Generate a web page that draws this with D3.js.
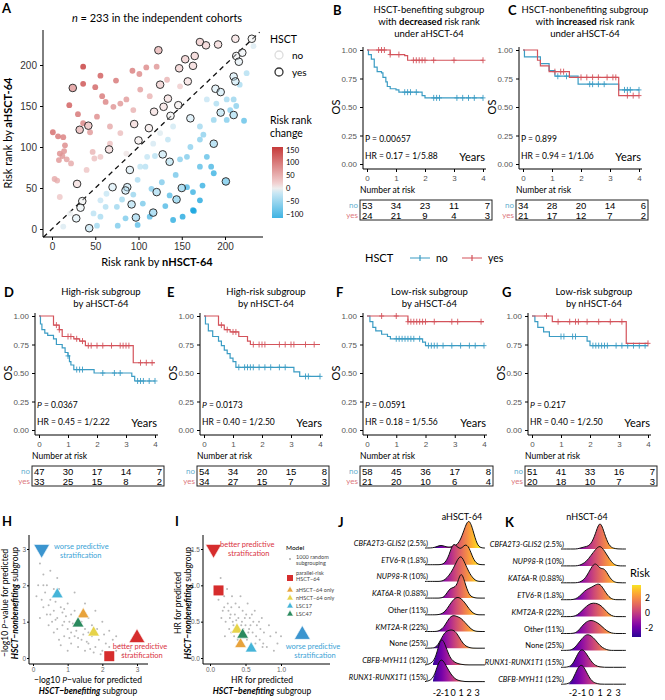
<!DOCTYPE html>
<html><head><meta charset="utf-8">
<script src="https://cdn.jsdelivr.net/npm/d3@7"></script>
<style>body{margin:0;background:#fff}svg{font-family:Lato,"Open Sans",sans-serif}</style>
</head><body>
<svg id="fig" width="665" height="700"></svg>
<script>
// ---------- data ----------
// panel A: [risk rank by nHSCT-64, risk rank by aHSCT-64]
const rankYes = [[171,228],[178,224],[192,225],[212,232],[231,232],[123,218],[154,207],[165,211],[147,196],[163,199],[213,211],[220,215],[216,204],[210,186],[212,180],[189,171],[195,167],[157,180],[125,176],[134,159],[129,149],[118,143],[146,151],[137,138],[160,135],[95,128],[112,123],[100,108],[32,121],[42,126],[66,97],[128,91],[136,82],[210,139],[195,142],[187,104],[29,55],[70,51],[87,51],[85,47],[90,72],[121,45],[150,50],[144,36],[35,34],[33,26],[28,13],[43,1],[92,30],[97,14],[117,20],[24,172],[201,58]];
const rankNo = [[36,198],[56,187],[50,173],[36,177],[20,151],[58,162],[62,155],[71,149],[79,153],[74,181],[93,193],[101,189],[109,197],[1,118],[7,113],[13,112],[15,102],[9,92],[14,95],[8,84],[17,85],[22,80],[3,61],[6,59],[12,89],[30,140],[36,129],[44,118],[47,94],[49,86],[40,72],[56,88],[67,104],
 [13,3],[21,19],[9,39],[56,35],[63,43],[75,27],[56,15],[48,19],[102,76],[110,88],[117,104],[86,92],[125,117],[140,125],[156,88],[171,109],[179,88],[187,68],[171,35],[156,51],[140,11],[163,23],[134,109],[148,174],[179,158],[190,153],[202,158],[225,190],[233,223],[217,176],[121,198],[133,182],[102,170],[113,162],[86,158],[94,145],[171,125],[187,133],[79,117],[67,125],[52,137],
 [206,145],[213,150],[202,133],[222,132],[175,115],[160,100],[184,76],[174,53],[163,45],[164,22],[151,15],[131,28],[136,41],[127,57],[143,66],[148,85],[119,89],[108,76],[99,60],[99,5],[76,4],[62,27],[52,4],[85,13],[113,15],[94,42],[81,36],[105,31],[115,49],[171,76],[210,158]];
const rankTicks = [0,50,100,150,200];
const changeTicks = [150,100,50,0,-50,-100];

// KM curves: [time, survival] steps; censor times
const kmYears = [0,1,2,3,4];
const kmB = {no:[[0,1],[0.05,0.96],[0.15,0.92],[0.25,0.85],[0.35,0.81],[0.5,0.8],[0.55,0.76],[0.65,0.72],[0.7,0.68],[0.8,0.66],[1.0,0.65],[1.1,0.63],[1.9,0.6],[2.0,0.58],[4,0.58]],
  noC:[1.3,1.4,1.5,1.7,2.3,2.4,2.5,3.1,3.3,3.5,3.7,4.0],
  yes:[[0,1],[0.8,0.96],[1.3,0.95],[1.4,0.91],[4,0.91]], yesC:[0.4,0.5,0.6,0.8,1.1,1.6,1.7,1.8,1.9,2.0,2.3,3.0,4.0]};
const kmC = {no:[[0,1],[0.05,0.94],[0.6,0.88],[0.9,0.82],[1.1,0.77],[1.9,0.7],[3.3,0.65],[4,0.65]],
  noC:[1.2,1.5,2.3,2.4,2.6,2.8,3.5,3.6,3.7,4.0],
  yes:[[0,1],[0.5,0.91],[0.6,0.86],[0.9,0.81],[1.6,0.76],[3.3,0.6],[4,0.6]], yesC:[1.1,1.3,1.4,2.0,2.2,2.4,2.6,2.9,3.1,3.2,3.6,3.8,4.0]};
const kmD = {no:[[0,1],[0.05,0.93],[0.1,0.88],[0.2,0.85],[0.3,0.83],[0.5,0.8],[0.6,0.75],[0.8,0.72],[0.9,0.68],[1.0,0.65],[1.05,0.6],[1.1,0.57],[1.2,0.53],[1.9,0.5],[3.2,0.47],[3.3,0.43],[4,0.43]],
  noC:[1.0,1.3,1.4,1.5,2.2,2.6,2.8,3.4,3.5,3.6,3.8,4.0],
  yes:[[0,1],[0.5,0.92],[0.7,0.88],[0.8,0.82],[1.2,0.8],[1.4,0.78],[1.6,0.74],[3.25,0.59],[4,0.59]], yesC:[0.6,0.7,1.0,1.1,1.3,1.5,1.7,1.8,2.0,2.2,2.5,2.8,2.9,3.0,3.1,3.5,3.7,3.9]};
const kmE = {no:[[0,1],[0.05,0.93],[0.15,0.87],[0.3,0.82],[0.5,0.78],[0.6,0.74],[0.7,0.7],[0.8,0.67],[0.9,0.63],[1.0,0.6],[1.1,0.55],[3.1,0.51],[3.3,0.47],[4,0.47]],
  noC:[1.2,1.4,1.5,1.6,1.7,1.9,2.1,2.3,2.6,2.8,3.5,3.6,4.0],
  yes:[[0,1],[0.5,0.92],[0.7,0.88],[0.9,0.86],[1.2,0.82],[1.5,0.78],[1.6,0.75],[4,0.75]], yesC:[0.6,0.8,1.0,1.1,1.7,1.9,2.0,2.1,2.6,2.8,3.0,3.1,3.5,3.8]};
const kmF = {no:[[0,1],[0.1,0.95],[0.2,0.9],[0.3,0.87],[0.5,0.84],[0.7,0.82],[0.8,0.8],[1.9,0.77],[2.0,0.74],[4,0.74]],
  noC:[1.0,1.1,1.2,1.3,1.4,1.5,1.6,1.8,2.1,2.2,2.3,2.4,2.6,2.9,3.2,3.5,3.7,4.0],
  yes:[[0,1],[1.4,0.95],[4,0.95]], yesC:[0.5,1.0,1.4,1.5,1.6,1.7,1.8,1.9,2.0,2.3,2.9,3.1,3.9]};
const kmG = {no:[[0,1],[0.1,0.95],[0.2,0.9],[0.4,0.86],[0.6,0.82],[1.9,0.78],[2.0,0.74],[4,0.74]],
  noC:[1.0,1.1,1.4,1.5,2.1,2.2,2.3,2.4,2.5,2.6,2.9,3.1,3.3,3.5,3.7,3.9],
  yes:[[0,1],[0.7,0.95],[3.25,0.76],[4,0.76]], yesC:[0.5,0.9,1.3,1.5,1.6,1.9,2.3,2.7,3.1,4.0]};
const riskB = {no:[53,34,23,11,7], yes:[24,21,9,4,3]};
const riskC = {no:[34,28,20,14,6], yes:[21,17,12,7,2]};
const riskD = {no:[47,30,17,14,7], yes:[33,25,15,8,2]};
const riskE = {no:[54,34,20,15,8], yes:[34,27,15,7,3]};
const riskF = {no:[58,45,36,17,8], yes:[21,20,10,6,4]};
const riskG = {no:[51,41,33,16,7], yes:[20,18,10,7,3]};

// H: -log10 P, I: HR  (random subgroupings + models)
const cloudH = [[0.2,2.6],[0.3,2.3],[0.4,2.0],[0.5,1.6],[0.3,1.4],[0.6,1.3],[0.7,1.1],[0.8,1.4],[0.9,1.0],[1.0,0.8],[1.1,1.2],[1.2,0.6],[1.3,0.9],[1.4,0.5],[1.5,0.8],[1.6,0.4],[1.7,0.6],[1.8,0.3],[1.9,0.5],[2.0,0.2],[2.1,0.4],[2.2,0.3],[2.4,0.2],[2.6,0.1],[0.5,2.4],[0.6,1.9],[0.8,1.7],[1.0,1.5],[1.2,1.3],[1.4,1.0],[1.6,1.1],[0.9,0.6],[0.7,0.8],[1.1,0.4],[1.3,0.3],[1.5,0.2],[0.4,1.2],[0.55,1.0],[0.75,0.5],[1.05,1.0],[1.25,0.75],[1.45,0.65],[1.65,0.25],[1.85,0.8],[2.05,0.65],[2.3,0.5],[2.5,0.35],[0.35,1.8],[0.65,1.55],[0.85,1.25],[0.95,1.15],[1.15,0.95],[1.35,1.15],[1.55,0.45],[1.75,0.15],[1.95,0.1],[2.2,0.75],[0.25,1.6],[0.45,0.9],[0.6,0.7],[0.8,0.35],[1.0,0.2],[0.15,2.0],[0.2,1.1],[2.8,0.2],[2.0,1.0],[1.8,1.3],[1.2,1.8],[0.7,2.2],[1.5,1.5],[0.45,1.45],[0.9,1.35],[1.1,0.7],[1.3,0.55],[0.65,1.05],[0.85,0.9],[1.7,0.9],[2.4,0.6],[0.1,1.7],[0.5,1.2],[1.05,0.55],[1.6,0.7],[0.75,1.9],[0.3,2.0]];
const cloudI = [[0.15,1.1],[0.1,0.95],[0.2,0.85],[0.25,0.75],[0.3,0.7],[0.18,0.65],[0.35,0.6],[0.28,0.55],[0.4,0.55],[0.45,0.5],[0.33,0.45],[0.5,0.45],[0.38,0.4],[0.55,0.4],[0.42,0.35],[0.6,0.35],[0.48,0.3],[0.65,0.3],[0.52,0.25],[0.7,0.25],[0.58,0.2],[0.75,0.2],[0.8,0.15],[0.9,0.1],[0.22,0.5],[0.27,0.4],[0.31,0.85],[0.36,0.75],[0.41,0.7],[0.46,0.65],[0.51,0.6],[0.56,0.55],[0.61,0.5],[0.66,0.45],[0.71,0.4],[0.76,0.35],[0.85,0.3],[0.95,0.2],[0.24,0.95],[0.29,0.6],[0.34,0.3],[0.39,0.25],[0.44,0.45],[0.49,0.55],[0.54,0.35],[0.59,0.6],[0.64,0.2],[0.69,0.5],[0.74,0.15],[0.12,0.8],[0.16,0.55],[0.21,0.3],[0.26,0.65],[0.43,0.85],[0.53,0.75],[0.63,0.65],[0.73,0.55],[0.83,0.45],[0.93,0.35],[1.0,0.3],[0.32,0.5],[0.37,0.52],[0.47,0.4],[0.57,0.45],[0.2,0.7],[0.3,0.35]];
const modelNames = ["parallel-risk HSCT−64","aHSCT−64 only","nHSCT−64 only","LSC17","LSC47"];
const modelColors = ["#d62d2d","#e8a33c","#e6d34a","#45b4d8","#2a8a5e"];
const modelH = [[2.2,0.05],[1.45,1.2],[1.75,0.7],[0.7,1.75],[1.3,0.95]];
const modelI = [[0.12,0.93],[0.43,0.19],[0.38,0.39],[0.58,0.13],[0.46,0.32]];

// J/K ridgelines: density heights on risk grid
const riskGrid = [-2.5,-2,-1.5,-1,-0.5,0,0.5,1,1.5,2,2.5,3,3.5];
const ridgeJ = [
 ["CBFA2T3-GLIS2"," (2.5%)",[0,0.05,0.1,0.05,0.02,0.05,0.1,0.3,0.7,1.0,0.6,0.1,0]],
 ["ETV6","-R (1.8%)",[0,0,0,0.05,0.3,0.75,0.6,0.5,0.7,0.6,0.2,0.02,0]],
 ["NUP98","-R (10%)",[0,0,0,0.05,0.2,0.4,0.7,0.9,0.6,0.3,0.1,0,0]],
 ["KAT6A","-R (0.88%)",[0,0,0,0.05,0.3,0.35,0.4,0.95,0.5,0.1,0.02,0,0]],
 ["","Other (11%)",[0,0,0.02,0.1,0.3,0.5,0.6,0.55,0.4,0.2,0.05,0,0]],
 ["KMT2A","-R (22%)",[0,0,0.05,0.2,0.45,0.55,0.5,0.45,0.3,0.15,0.03,0,0]],
 ["","None (25%)",[0,0.05,0.3,0.55,0.6,0.62,0.5,0.25,0.08,0.02,0,0,0]],
 ["CBFB-MYH11"," (12%)",[0.05,0.4,0.95,0.7,0.3,0.12,0.05,0.02,0,0,0,0,0]],
 ["RUNX1-RUNX1T1"," (15%)",[0.05,0.5,0.8,0.6,0.35,0.15,0.05,0.02,0,0,0,0,0]]];
const ridgeK = [
 ["CBFA2T3-GLIS2"," (2.5%)",[0,0,0,0.05,0.08,0.15,0.5,1.0,0.5,0.1,0.02,0,0]],
 ["NUP98","-R (10%)",[0,0,0,0.05,0.15,0.35,0.55,0.7,0.5,0.25,0.05,0,0]],
 ["KAT6A","-R (0.88%)",[0,0,0,0.05,0.2,0.5,0.7,0.45,0.5,0.2,0.03,0,0]],
 ["ETV6","-R (1.8%)",[0,0,0.05,0.2,0.35,0.4,0.5,0.55,0.3,0.08,0,0,0]],
 ["KMT2A","-R (22%)",[0,0,0.05,0.2,0.35,0.45,0.45,0.4,0.25,0.08,0,0,0]],
 ["","Other (11%)",[0,0,0.05,0.25,0.4,0.45,0.4,0.3,0.15,0.04,0,0,0]],
 ["","None (25%)",[0,0.03,0.2,0.4,0.55,0.5,0.35,0.15,0.05,0,0,0,0]],
 ["RUNX1-RUNX1T1"," (15%)",[0,0.1,0.45,0.65,0.45,0.2,0.05,0.01,0,0,0,0,0]],
 ["CBFB-MYH11"," (12%)",[0,0.15,0.55,0.7,0.4,0.12,0.03,0,0,0,0,0,0]]];
const ridgeTicks = [-2,-1,0,1,2,3];
const riskLegendTicks = [2,0,-2];

// ---------- drawing ----------
const svg = d3.select("#fig");
const defs = svg.append("defs");
const BLUE = "#3b9cc4", RED = "#d4535b";
function letter(t,x,y){svg.append("text").attr("x",x).attr("y",y).attr("font-size",13).attr("font-weight","bold").text(t);}

// ----- A -----
{
  const x = d3.scaleLinear().domain([0,200]).range([52,225]);
  const y = d3.scaleLinear().domain([0,200]).range([229,65]);
  const col = d3.scaleLinear().domain([-130,-20,0,20,160]).range(["#29abe0","#c6e6f4","#eeeeee","#f1d0d0","#c63a3a"]);
  letter("A",2,13);
  svg.append("text").attr("x",157).attr("y",22).attr("text-anchor","middle").attr("font-size",11)
    .html('<tspan font-style="italic">n</tspan> = 233 in the independent cohorts');
  const g = svg.append("g");
  g.append("line").attr("x1",x(-10)).attr("y1",y(-10)).attr("x2",x(240)).attr("y2",y(240))
    .attr("stroke","#111").attr("stroke-dasharray","5,4").attr("stroke-width",1.3);
  g.selectAll(".pn").data(rankNo).join("circle").attr("cx",d=>x(d[0])).attr("cy",d=>y(d[1])).attr("r",2.9)
    .attr("fill",d=>col(d[1]-d[0])).attr("opacity",0.8);
  g.selectAll(".py").data(rankYes).join("circle").attr("cx",d=>x(d[0])).attr("cy",d=>y(d[1])).attr("r",3.8)
    .attr("fill",d=>col(d[1]-d[0])).attr("fill-opacity",0.45).attr("stroke","#333").attr("stroke-width",1);
  svg.append("g").attr("transform","translate(0,237)").call(d3.axisBottom(x).tickValues(rankTicks).tickSize(3))
    .call(a=>{a.select(".domain").attr("d","M43,0H263");a.selectAll("text").attr("font-size",10).attr("fill","#333");});
  svg.append("g").attr("transform","translate(43,0)").call(d3.axisLeft(y).tickValues(rankTicks).tickSize(3))
    .call(a=>{a.select(".domain").attr("d","M0,30V237");a.selectAll("text").attr("font-size",10).attr("fill","#333");});
  svg.append("text").attr("x",157).attr("y",266).attr("text-anchor","middle").attr("font-size",11)
    .html('Risk rank by <tspan font-weight="bold">nHSCT-64</tspan>');
  svg.append("text").attr("transform","translate(12,133) rotate(-90)").attr("text-anchor","middle").attr("font-size",11)
    .html('Risk rank by <tspan font-weight="bold">aHSCT-64</tspan>');
  svg.append("text").attr("x",270).attr("y",43).attr("font-size",10.5).text("HSCT");
  [["no",55,"#ddd"],["yes",72,"#333"]].forEach(([t,yy,s])=>{
    svg.append("circle").attr("cx",279).attr("cy",yy).attr("r",4).attr("fill","none").attr("stroke",s).attr("stroke-width",1.3);
    svg.append("text").attr("x",292).attr("y",yy+4).attr("font-size",10).text(t);});
  svg.append("text").attr("x",270).attr("y",124).attr("font-size",10.5).text("Risk rank");
  svg.append("text").attr("x",270).attr("y",137).attr("font-size",10.5).text("change");
  const cb = d3.scaleLinear().domain([-115,160]).range([218,147]);
  const grad = defs.append("linearGradient").attr("id","cbA").attr("x1",0).attr("x2",0).attr("y1",1).attr("y2",0);
  [-115,-20,0,20,160].forEach(v=>grad.append("stop").attr("offset",(v+115)/275).attr("stop-color",col(v)));
  svg.append("rect").attr("x",272).attr("y",147).attr("width",11).attr("height",71).attr("fill","url(#cbA)");
  changeTicks.forEach(v=>svg.append("text").attr("x",286).attr("y",cb(v)+3).attr("font-size",7.5).text(v<0?"−"+(-v):v));
}

// ----- KM panels -----
function km(o){
  const x = d3.scaleLinear().domain([0,4]).range([o.x0,o.x1]);
  const y = d3.scaleLinear().domain([0,1]).range([o.yb,o.yt]);
  const cx=(o.x0+o.x1)/2;
  letter(o.L,o.lx,o.ty[0]+2);
  o.title.forEach((t,i)=>svg.append("text").attr("x",cx+4).attr("y",o.ty[i]).attr("text-anchor","middle").attr("font-size",o.fs).html(t));
  const line = d3.line().x(d=>x(d[0])).y(d=>y(d[1])).curve(d3.curveStepAfter);
  [["no",BLUE],["yes",RED]].forEach(([k,c])=>{
    svg.append("path").attr("d",line(o.d[k])).attr("fill","none").attr("stroke",c).attr("stroke-width",1.2);
    const surv=t=>{let s=1;o.d[k].forEach(p=>{if(p[0]<=t)s=p[1];});return s;};
    o.d[k+"C"].forEach(t=>svg.append("path").attr("d",`M${x(t)},${y(surv(t))-3}v6M${x(t)-2.5},${y(surv(t))}h5`).attr("stroke",c).attr("stroke-width",0.9));
  });
  const ax=svg.append("g").attr("transform",`translate(0,${o.yb+5})`).call(d3.axisBottom(x).tickValues(kmYears).tickFormat(d3.format("d")).tickSize(3));
  ax.select(".domain").attr("d",`M${o.x0-4},0H${o.x1+3}`);
  ax.selectAll("text").attr("font-size",8).attr("fill","#555");
  const ay=svg.append("g").attr("transform",`translate(${o.x0-4},0)`).call(d3.axisLeft(y).tickValues([0,0.25,0.5,0.75,1]).tickFormat(d3.format(".2f")).tickSize(3));
  ay.select(".domain").attr("d",`M0,${o.yt-3}V${o.yb+5}`);
  ay.selectAll("text").attr("font-size",8).attr("fill","#555");
  svg.append("text").attr("transform",`translate(${o.x0-27},${(o.yt+o.yb)/2}) rotate(-90)`).attr("text-anchor","middle").attr("font-size",11).text("OS");
  svg.append("text").attr("x",o.x1+2).attr("y",o.yb-3).attr("text-anchor","end").attr("font-size",11).text("Years");
  svg.append("text").attr("x",o.x0-2).attr("y",o.yb-22).attr("font-size",8.5).html(o.p);
  svg.append("text").attr("x",o.x0-2).attr("y",o.yb-5).attr("font-size",8.5).text(o.hr);
  svg.append("text").attr("x",o.x0-7).attr("y",o.by-7).attr("font-size",8.5).text("Number at risk");
  const bx0=o.x0-7,bx1=o.x1+9;
  svg.append("rect").attr("x",bx0).attr("y",o.by).attr("width",bx1-bx0).attr("height",20).attr("fill","none").attr("stroke","#222");
  [["no",BLUE,9],["yes",RED,18.5]].forEach(([k,c,dy])=>{
    svg.append("text").attr("x",bx0-2).attr("y",o.by+dy-1).attr("text-anchor","end").attr("font-size",8).attr("fill",c).attr("opacity",0.8).text(k);
    o.r[k].forEach((v,i)=>svg.append("text").attr("x",i===0?bx0+2:i===4?bx1-2:x(i)).attr("y",o.by+dy)
      .attr("text-anchor",i===0?"start":i===4?"end":"middle").attr("font-family","Liberation Sans Narrow,Liberation Sans,sans-serif").attr("font-size",9.5).text(v));
  });
}
km({L:"B",lx:333,x0:367,x1:483,yt:50,yb:164,ty:[13,25,37],fs:9.5,title:["HSCT-benefiting subgroup",'with <tspan font-weight="bold">decreased</tspan> risk rank',"under aHSCT-64"],d:kmB,r:riskB,p:"P = 0.00657",hr:"HR = 0.17 = 1/5.88",by:200});
km({L:"C",lx:508,x0:523,x1:639,yt:50,yb:164,ty:[13,25,37],fs:9.5,title:["HSCT-nonbenefiting subgroup",'with <tspan font-weight="bold">increased</tspan> risk rank',"under aHSCT-64"],d:kmC,r:riskC,p:"P = 0.899",hr:"HR = 0.94 = 1/1.06",by:200});
const itP=v=>`<tspan font-style="italic">P</tspan> = ${v}`;
km({L:"D",lx:4,x0:39,x1:155,yt:316,yb:430,ty:[295,307],fs:9.5,title:["High-risk subgroup","by aHSCT-64"],d:kmD,r:riskD,p:itP("0.0367"),hr:"HR = 0.45 = 1/2.22",by:466});
km({L:"E",lx:167,x0:204,x1:320,yt:316,yb:430,ty:[295,307],fs:9.5,title:["High-risk subgroup","by nHSCT-64"],d:kmE,r:riskE,p:itP("0.0173"),hr:"HR = 0.40 = 1/2.50",by:466});
km({L:"F",lx:336,x0:367,x1:484,yt:316,yb:430,ty:[295,307],fs:9.5,title:["Low-risk subgroup","by aHSCT-64"],d:kmF,r:riskF,p:itP("0.0591"),hr:"HR = 0.18 = 1/5.56",by:466});
km({L:"G",lx:502,x0:532,x1:648,yt:316,yb:430,ty:[295,307],fs:9.5,title:["Low-risk subgroup","by nHSCT-64"],d:kmG,r:riskG,p:itP("0.217"),hr:"HR = 0.40 = 1/2.50",by:466});
// HSCT legend
svg.append("text").attr("x",365).attr("y",262).attr("font-size",11).text("HSCT");
[["no",BLUE,410],["yes",RED,462]].forEach(([t,c,xx])=>{
  svg.append("path").attr("d",`M${xx},258h20M${xx+10},255v6`).attr("stroke",c).attr("stroke-width",1.2);
  svg.append("text").attr("x",xx+26).attr("y",262).attr("font-size",10.5).text(t);});

// ----- H / I -----
function tri(g,x,y,c,s,down){g.append("path").attr("d",d3.symbol(d3.symbolTriangle,s)()).attr("transform",`translate(${x},${y})${down?" rotate(180)":""}`).attr("fill",c).attr("stroke","#fff").attr("stroke-width",0.6);}
function scatterPanel(o){
  letter(o.L,o.lx,526);
  const g=svg.append("g");
  g.selectAll("circle").data(o.cloud).join("circle").attr("cx",d=>o.x(d[0])).attr("cy",d=>o.y(d[1])).attr("r",1).attr("fill","#b8b8b8");
  o.models.forEach((m,i)=>{
    if(i===0) g.append("rect").attr("x",o.x(m[0])-5).attr("y",o.y(m[1])-5).attr("width",10).attr("height",10).attr("fill",modelColors[0]);
    else tri(g,o.x(m[0]),o.y(m[1]),modelColors[i],60);
  });
  const ax=svg.append("g").attr("transform",`translate(0,${o.yb})`).call(d3.axisBottom(o.x).tickValues(o.xt).tickSize(2).tickPadding(1).tickFormat(o.xf));
  ax.select(".domain").attr("d",`M${o.xl},0H${o.xr}`);ax.selectAll("text").attr("font-size",6.5).attr("fill","#666");
  const ay=svg.append("g").attr("transform",`translate(${o.xl},0)`).call(d3.axisLeft(o.y).tickValues(o.yt).tickSize(2).tickPadding(1).tickFormat(o.yf));
  ay.select(".domain").attr("d",`M0,535V${o.yb}`);ay.selectAll("text").attr("font-size",6.5).attr("fill","#666");
}
function note(s,xx,yy,c,a){svg.append("text").attr("x",xx).attr("y",yy).attr("font-size",7.5).attr("fill",c).attr("text-anchor",a||"start").text(s);}
function axTitle(t,x,y,rot){svg.append("text").attr("transform",`translate(${x},${y})${rot?" rotate(-90)":""}`).attr("text-anchor","middle").attr("font-size",8.5).html(t);}
{
  const x=d3.scaleLinear().domain([0,3]).range([33,137]), y=d3.scaleLinear().domain([0,3]).range([658,549]);
  scatterPanel({L:"H",lx:2,x,y,cloud:cloudH,models:modelH,xt:[0,1,2,3],yt:[0,1,2,3],xf:d3.format("d"),yf:d3.format("d"),xl:29,xr:148,yb:664});
  tri(svg,x(0.25),y(3.0),"#3b95cf",110,true);
  tri(svg,x(3.0),y(0.55),"#d62d2d",110,false);
  note("worse predictive",54,549,"#3aa3d6");note("stratification",60,558,"#3aa3d6");
  note("better predictive",140,649,"#d9333f","middle");note("stratification",142,658,"#d9333f","middle");
  axTitle('−log10 <tspan font-style="italic">P</tspan>−value for predicted',88,683);
  axTitle('<tspan font-weight="bold" font-style="italic">HSCT−benefiting</tspan> subgroup',88,694);
  axTitle('−log10 <tspan font-style="italic">P</tspan>−value for predicted',8,603,true);
  axTitle('<tspan font-weight="bold" font-style="italic">HSCT−nonbenefiting</tspan> subgroup',18,603,true);
}
{
  const x=d3.scaleLinear().domain([0,1]).range([210,281]), y=d3.scaleLinear().domain([0,1.5]).range([658,549]);
  scatterPanel({L:"I",lx:175,x,y,cloud:cloudI,models:modelI,xt:[0,0.5,1],yt:[0,0.5,1,1.5],xf:d3.format(".1f"),yf:d3.format(".1f"),xl:203,xr:330,yb:664});
  tri(svg,x(0.05),y(1.5),"#d62d2d",110,true);
  tri(svg,x(1.3),y(0.32),"#3b95cf",110,false);
  note("better predictive",220,547,"#d9333f");note("stratification",228,556,"#d9333f");
  note("worse predictive",313,649,"#3aa3d6","middle");note("stratification",315,658,"#3aa3d6","middle");
  axTitle("HR for predicted",262,683);
  axTitle('<tspan font-weight="bold" font-style="italic">HSCT−benefiting</tspan> subgroup',262,694);
  axTitle("HR for predicted",181,603,true);
  axTitle('<tspan font-weight="bold" font-style="italic">HSCT−nonbenefiting</tspan> subgroup',191,603,true);
  // legend
  svg.append("text").attr("x",286).attr("y",550).attr("font-size",6.5).text("Model");
  svg.append("circle").attr("cx",290).attr("cy",559).attr("r",1).attr("fill","#aaa");
  svg.append("text").attr("x",296).attr("y",559).attr("font-size",5.5).attr("fill","#444").text("1000 random");
  svg.append("text").attr("x",296).attr("y",565).attr("font-size",5.5).attr("fill","#444").text("subgrouping");
  svg.append("rect").attr("x",287).attr("y",575).attr("width",6).attr("height",6).attr("fill",modelColors[0]);
  svg.append("text").attr("x",296).attr("y",575).attr("font-size",5.5).attr("fill","#444").text("parallel-risk");
  svg.append("text").attr("x",296).attr("y",581).attr("font-size",5.5).attr("fill","#444").text("HSCT−64");
  modelNames.slice(1).forEach((n,i)=>{const yy=590+i*8;tri(svg,290,yy,modelColors[i+1],20);
    svg.append("text").attr("x",296).attr("y",yy+2).attr("font-size",5.5).attr("fill","#444").text(n);});
}

// ----- J / K ridgelines -----
function ridges(o){
  letter(o.L,o.lx,527);
  svg.append("text").attr("x",o.tx).attr("y",520).attr("text-anchor","middle").attr("font-size",9).text(o.title);
  const x=d3.scaleLinear().domain([-2,3]).range([o.a,o.b]);
  const gid="rg"+o.L;
  const lg=defs.append("linearGradient").attr("id",gid).attr("gradientUnits","userSpaceOnUse").attr("x1",x(-2.6)).attr("x2",x(3.2)).attr("y1",0).attr("y2",0);
  d3.range(0,1.01,0.1).forEach(t=>lg.append("stop").attr("offset",t).attr("stop-color",d3.interpolatePlasma(0.05+t*0.9)));
  const h=d3.scaleLinear().domain([0,1]).range([0,30]);
  o.rows.forEach((r,i)=>{
    const base=o.y0+i*o.dy;
    const pts=riskGrid.map((v,j)=>[x(v),base-h(r[2][j])]);
    const area=d3.area().x(d=>d[0]).y0(base).y1(d=>d[1]).curve(d3.curveBasis);
    svg.append("path").attr("d",area(pts)).attr("fill",`url(#${gid})`);
    svg.append("path").attr("d",d3.line().curve(d3.curveBasis)([[o.a-12,base],...pts,[o.b+8,base]])).attr("fill","none").attr("stroke","#111").attr("stroke-width",1);
    svg.append("text").attr("x",o.lr).attr("y",base-2).attr("text-anchor","end").attr("font-size",7.5)
      .html((r[0]?`<tspan font-style="italic">${r[0]}</tspan>`:"")+r[1]);
  });
  ridgeTicks.forEach(v=>svg.append("text").attr("x",x(v)).attr("y",696).attr("text-anchor","middle").attr("font-size",9).text(v<0?"-"+(-v):v));
}
ridges({L:"J",lx:338,tx:462,title:"aHSCT-64",a:437,b:477,y0:548,dy:16.7,rows:ridgeJ,lr:428});
ridges({L:"K",lx:505,tx:587,title:"nHSCT-64",a:573,b:618,y0:549,dy:16.9,rows:ridgeK,lr:564});
// Risk legend
{
  const ry=d3.scaleLinear().domain([-3.2,3.7]).range([637,585]);
  svg.append("text").attr("x",630).attr("y",577).attr("font-size",11).text("Risk");
  const lg=defs.append("linearGradient").attr("id","rk").attr("x1",0).attr("x2",0).attr("y1",1).attr("y2",0);
  d3.range(0,1.01,0.1).forEach(t=>lg.append("stop").attr("offset",t).attr("stop-color",d3.interpolatePlasma(0.05+t*0.9)));
  svg.append("rect").attr("x",632).attr("y",585).attr("width",9).attr("height",52).attr("fill","url(#rk)");
  riskLegendTicks.forEach(v=>svg.append("text").attr("x",645).attr("y",ry(v)+3).attr("font-size",8.5).text(v<0?"-"+(-v):v));
}
</script>
</body></html>
